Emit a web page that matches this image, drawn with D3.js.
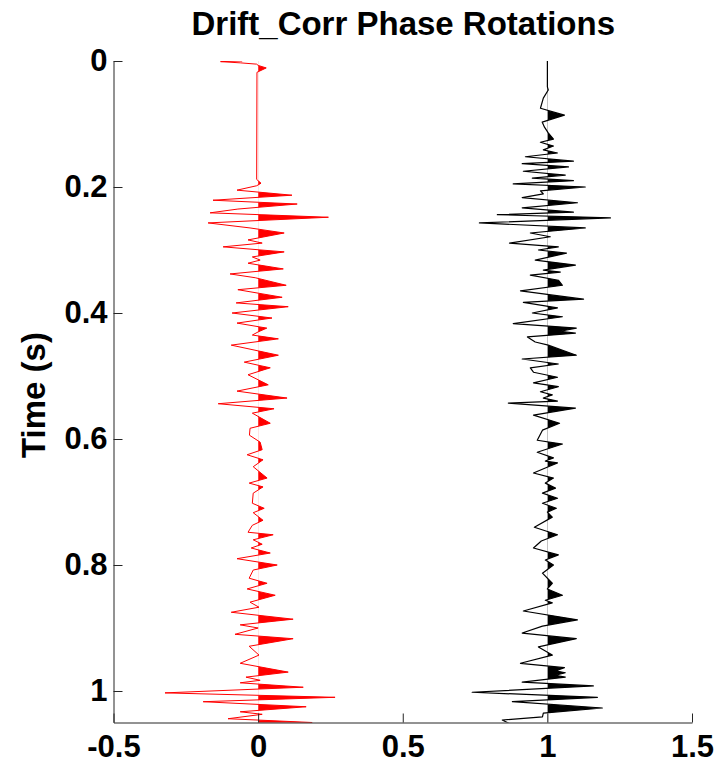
<!DOCTYPE html>
<html><head><meta charset="utf-8">
<script src="https://cdn.jsdelivr.net/npm/d3@7"></script>
<style>body{margin:0;background:#fff}svg{display:block}</style>
</head><body>
<svg id="c" width="724" height="763"></svg>
<script>
const titleText = "Drift_Corr Phase Rotations";
const yLabelText = "Time (s)";
const xTicks = [-0.5, 0, 0.5, 1, 1.5];
const yTicks = [0, 0.2, 0.4, 0.6, 0.8, 1];
const xDomain = [-0.5, 1.5];
const yDomain = [0, 1.05];

const redOffset = 0;
const redTime = [0.000,0.001,0.003,0.005,0.007,0.011,0.018,0.188,0.194,0.198,
0.205,0.213,0.221,0.227,0.235,0.241,0.248,0.257,0.265,0.273,
0.284,0.289,0.295,0.303,0.311,0.316,0.321,0.330,0.338,0.344,
0.356,0.363,0.375,0.384,0.390,0.400,0.408,0.416,0.424,0.430,
0.435,0.441,0.451,0.467,0.478,0.487,0.498,0.514,0.524,0.535,
0.544,0.552,0.559,0.575,0.583,0.594,0.605,0.617,0.625,0.633,
0.644,0.662,0.670,0.676,0.686,0.702,0.710,0.717,0.729,0.737,
0.748,0.752,0.760,0.767,0.773,0.781,0.790,0.800,0.808,0.821,
0.829,0.838,0.848,0.859,0.867,0.875,0.886,0.895,0.900,0.910,
0.917,0.929,0.943,0.956,0.970,0.978,0.983,0.987,0.994,1.003,
1.010,1.017,1.025,1.033,1.037,1.044,1.050,1.058];
const redAmp = [-0.055,-0.13,-0.06,-0.005,0.0,0.028,-0.004,-0.005,0.01,-0.005,
-0.073,0.117,-0.156,0.135,-0.07,-0.166,0.243,-0.173,-0.028,0.09,
-0.035,0.014,-0.121,0.09,-0.02,0.007,-0.035,0.087,-0.097,-0.01,
0.097,-0.07,0.083,-0.076,0.104,-0.09,0.048,-0.073,0.03,0.0,
-0.02,0.07,-0.093,0.07,-0.048,0.042,-0.035,0.035,-0.073,0.1,
-0.138,0.055,-0.02,0.042,-0.028,-0.03,0.007,0.014,-0.038,0.017,
-0.017,0.031,-0.031,0.017,-0.017,-0.02,0.021,-0.017,0.017,-0.02,
-0.035,0.052,-0.017,0.014,-0.024,0.042,-0.073,0.066,-0.017,-0.031,
0.031,-0.038,0.059,-0.028,0.003,-0.093,0.121,-0.062,0.0,-0.08,
0.121,-0.031,0.003,-0.062,0.104,-0.042,0.007,-0.062,0.156,-0.322,
0.266,-0.19,0.166,-0.062,0.014,-0.104,0.187,0.0];

const blackOffset = 1;
const blackTime = [0.000,0.041,0.046,0.059,0.075,0.086,0.097,0.105,0.114,0.124,
0.129,0.135,0.141,0.146,0.152,0.159,0.163,0.168,0.175,0.181,
0.186,0.190,0.195,0.200,0.206,0.211,0.217,0.225,0.233,0.240,
0.244,0.249,0.257,0.265,0.273,0.279,0.289,0.295,0.300,0.305,
0.316,0.324,0.332,0.335,0.340,0.348,0.356,0.365,0.378,0.383,
0.392,0.400,0.406,0.417,0.424,0.429,0.432,0.438,0.446,0.451,
0.467,0.473,0.481,0.487,0.494,0.502,0.511,0.517,0.525,0.530,
0.535,0.540,0.543,0.551,0.562,0.575,0.586,0.602,0.608,0.621,
0.630,0.635,0.638,0.646,0.654,0.662,0.670,0.678,0.686,0.694,
0.702,0.710,0.716,0.724,0.740,0.752,0.762,0.773,0.784,0.792,
0.800,0.813,0.829,0.838,0.848,0.856,0.860,0.873,0.887,0.897,
0.908,0.917,0.930,0.943,0.956,0.963,0.968,0.971,0.975,0.978,
0.986,0.992,1.002,1.010,1.017,1.027,1.035,1.041,1.046,1.052];
const blackAmp = [0,0,0.003,-0.014,-0.024,0.059,-0.018,-0.01,0.003,0.021,
-0.024,0.021,-0.014,0.035,-0.076,0.09,-0.087,0.073,-0.083,0.062,
-0.052,0.09,-0.118,0.131,-0.024,-0.014,-0.087,0.104,-0.087,0.09,
-0.173,0.218,-0.235,0.131,-0.059,0.01,-0.131,0.038,-0.031,0.066,
-0.042,0.097,-0.014,0.045,-0.059,0.038,0.052,-0.093,0.125,-0.083,
0.035,-0.052,0.052,-0.118,0.1,0.045,0.097,-0.069,-0.042,0.003,
0.1,-0.087,0.038,-0.059,-0.048,0.035,-0.048,0.038,-0.024,0.017,
-0.014,0.035,-0.135,0.097,-0.048,0.042,-0.017,-0.035,0.052,-0.035,
0.021,-0.007,0.035,-0.007,-0.048,0.021,-0.007,0.028,-0.017,0.035,
-0.017,0.031,0,0.017,-0.045,0.035,-0.021,-0.048,0.038,-0.007,
0.021,-0.017,0.017,0,0.052,-0.007,0.017,-0.083,0.104,-0.017,
-0.087,0.1,-0.031,0.017,-0.093,0.059,0.028,0.062,0.028,0.062,
-0.087,0.159,-0.26,0.173,-0.121,0.19,-0.014,-0.017,-0.156,-0.13];

const svg = d3.select("#c");
const m = {l:113.5, r:692, t:61, b:722.5};
const x = d3.scaleLinear(xDomain, [m.l, m.r]);
const y = d3.scaleLinear(yDomain, [m.t, m.b]);
const font = "'Liberation Sans', Arial, Helvetica, sans-serif";

const defs = svg.append("defs");
defs.append("clipPath").attr("id","plot").append("rect")
  .attr("x", m.l).attr("y", m.t).attr("width", m.r - m.l).attr("height", m.b - m.t);

const traces = [
  {time: redTime, amp: redAmp, off: redOffset, color: "#ff0000", w: 1},
  {time: blackTime, amp: blackAmp, off: blackOffset, color: "#000000", w: 1.2}
];

const plot = svg.append("g").attr("clip-path","url(#plot)");
traces.forEach((tr, i) => {
  const pts = tr.time.map((t, k) => ({t, a: tr.amp[k]}));
  const cid = "pos" + i;
  defs.append("clipPath").attr("id", cid).append("rect")
    .attr("x", x(tr.off)).attr("y", 0).attr("width", 724 - x(tr.off)).attr("height", 763);
  plot.append("g").attr("clip-path", `url(#${cid})`).append("path")
    .datum(pts)
    .attr("fill", tr.color)
    .attr("d", d3.area().y(d => y(d.t)).x0(x(tr.off)).x1(d => x(tr.off + d.a)));
  plot.append("path").datum(pts)
    .attr("fill","none").attr("stroke", tr.color).attr("stroke-width", tr.w)
    .attr("stroke-linejoin","round")
    .attr("d", d3.line().y(d => y(d.t)).x(d => x(tr.off + d.a)));
});

const fmt = d => String(d);
const gx = svg.append("g").attr("transform", `translate(0,${m.b})`)
  .call(d3.axisBottom(x).tickValues(xTicks).tickFormat(fmt).tickSize(-9).tickSizeOuter(0).tickPadding(12));
const gy = svg.append("g").attr("transform", `translate(${m.l},0)`)
  .call(d3.axisLeft(y).tickValues(yTicks).tickFormat(fmt).tickSize(-9).tickSizeOuter(0).tickPadding(6));
[gx, gy].forEach(g => {
  g.select(".domain").attr("stroke", "#262626").attr("stroke-width", 1);
  g.selectAll(".tick line").attr("stroke", "#262626");
  g.selectAll("text").attr("fill", "#000").style("font-family", font)
    .style("font-size", "31px").style("font-weight", "bold");
});

svg.append("text").attr("x", (m.l + m.r) / 2 + 0.5).attr("y", 35)
  .attr("text-anchor","middle").style("font-family", font)
  .style("font-size","33px").style("font-weight","bold").text(titleText);

svg.append("text").attr("transform", `translate(45,395) rotate(-90)`)
  .attr("text-anchor","middle").style("font-family", font)
  .style("font-size","33px").style("font-weight","bold").text(yLabelText);
</script>
</body></html>
